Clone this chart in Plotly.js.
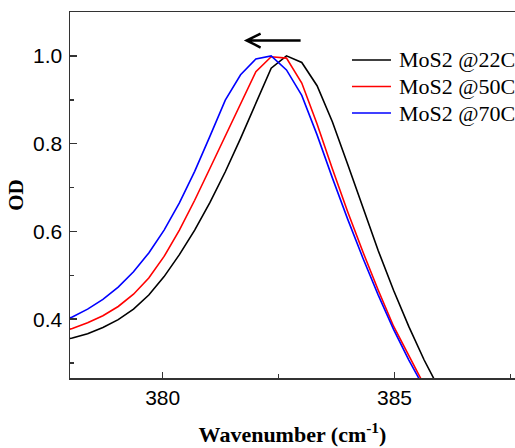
<!DOCTYPE html>
<html>
<head>
<meta charset="utf-8">
<script src="https://cdn.plot.ly/plotly-3.0.1.min.js"></script>
<style>html,body{margin:0;padding:0;background:#fff;overflow:hidden;}</style>
</head>
<body>
<div id="chart" style="width:515px;height:448px;"></div>
<script>
// Wavenumber grid (cm^-1)
const wavenumber = [377.72, 378.05, 378.38, 378.71, 379.04, 379.37, 379.70, 380.03, 380.36, 380.69,
  381.02, 381.35, 381.68, 382.01, 382.34, 382.67, 383.00, 383.33, 383.66, 383.99,
  384.32, 384.65, 384.98, 385.31, 385.64, 385.97, 386.30];

const od22 = [0.350, 0.357, 0.367, 0.381, 0.399, 0.423, 0.455, 0.497, 0.547, 0.603,
  0.666, 0.736, 0.812, 0.890, 0.972, 1.000, 0.985, 0.932, 0.850, 0.753,
  0.653, 0.556, 0.466, 0.383, 0.307, 0.237, 0.173];

const od50 = [0.369, 0.379, 0.392, 0.408, 0.429, 0.457, 0.494, 0.543, 0.603, 0.671,
  0.744, 0.818, 0.892, 0.964, 0.998, 0.995, 0.938, 0.845, 0.743, 0.645,
  0.553, 0.466, 0.384, 0.315, 0.250, 0.188, 0.130];

const od70 = [0.391, 0.405, 0.423, 0.445, 0.473, 0.508, 0.551, 0.603, 0.665, 0.737,
  0.817, 0.899, 0.957, 0.993, 1.000, 0.968, 0.910, 0.820, 0.722, 0.628,
  0.539, 0.455, 0.377, 0.307, 0.243, 0.185, 0.130];

const seriesNames = ['MoS2 @22C', 'MoS2 @50C', 'MoS2 @70C'];
const seriesColors = ['#000000', '#ff0000', '#0000ff'];
const xTickVals = [380, 385];
const xTickText = ['380', '385'];
const yTickVals = [0.4, 0.6, 0.8, 1.0];
const yTickText = ['0.4', '0.6', '0.8', '1.0'];

const ys = [od22, od50, od70];
const traces = ys.map((y, i) => ({
  x: wavenumber, y: y, type: 'scatter', mode: 'lines',
  name: seriesNames[i],
  line: {color: seriesColors[i], width: 1.6}
}));

const serif = 'Liberation Serif, Times New Roman, serif';
const sans = 'Liberation Sans, Arial, sans-serif';

// Manual legend (paper coordinates)
const legX0 = 0.6337, legX1 = 0.7213, legTextX = 0.7348;
const legY = [0.8689, 0.7964, 0.7240];
const legendShapes = seriesNames.map((n, i) => ({
  type: 'line', xref: 'paper', yref: 'paper',
  x0: legX0, x1: legX1, y0: legY[i], y1: legY[i],
  line: {color: seriesColors[i], width: 1.6}
}));
const legendTexts = seriesNames.map((n, i) => ({
  xref: 'paper', yref: 'paper', x: legTextX, y: legY[i],
  xanchor: 'left', yanchor: 'middle', showarrow: false,
  text: n, font: {family: serif, size: 22, color: '#000'}
}));

const layout = {
  width: 515, height: 448,
  margin: {l: 70, r: 0, t: 12, b: 70},
  paper_bgcolor: '#ffffff', plot_bgcolor: '#ffffff',
  showlegend: false,
  xaxis: {
    range: [378.0, 387.6], tickvals: xTickVals, ticktext: xTickText,
    ticks: 'inside', ticklen: 6, tickwidth: 1.5, tickcolor: '#333',
    minor: {dtick: 2.5, ticks: 'inside', ticklen: 4, tickwidth: 1.5, tickcolor: '#333'},
    showline: true, linecolor: '#333', linewidth: 1.5, mirror: true,
    showgrid: false, zeroline: false,
    tickfont: {family: sans, size: 21, color: '#000'},
    title: {text: '<b>Wavenumber (cm<sup>-1</sup>)</b>', font: {family: serif, size: 22, color: '#000'}, standoff: 19}
  },
  yaxis: {
    range: [0.266, 1.1], tickvals: yTickVals, ticktext: yTickText,
    ticks: 'inside', ticklen: 7, tickwidth: 1.5, tickcolor: '#333',
    minor: {dtick: 0.1, tick0: 0, ticks: 'inside', ticklen: 4, tickwidth: 1.5, tickcolor: '#333'},
    showline: true, linecolor: '#333', linewidth: 1.5, mirror: false,
    showgrid: false, zeroline: false, ticklabelstandoff: 2,
    tickfont: {family: sans, size: 21, color: '#000'},
    title: {text: '<b>OD</b>', font: {family: serif, size: 21, color: '#000'}, standoff: 3}
  },
  annotations: legendTexts,
  shapes: [{
    type: 'path', xref: 'x', yref: 'y',
    xsizemode: 'pixel', ysizemode: 'pixel',
    xanchor: 381.81, yanchor: 1.035,
    path: 'M14,7 L0,0 L14,-7 M0,0 L54,0',
    line: {color: '#000', width: 2.5}
  }].concat(legendShapes)
};

Plotly.newPlot('chart', traces, layout, {displayModeBar: false, staticPlot: true});
</script>
</body>
</html>
